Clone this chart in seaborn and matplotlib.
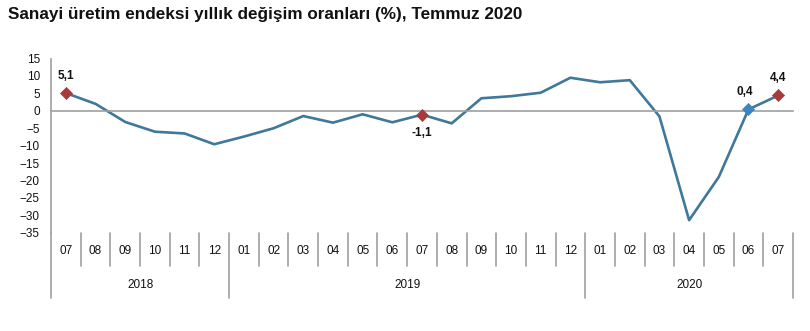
import matplotlib
matplotlib.use("Agg")
import matplotlib.pyplot as plt
import matplotlib.transforms as mtransforms
import seaborn as sns
import pandas as pd

months = ["07", "08", "09", "10", "11", "12",
          "01", "02", "03", "04", "05", "06", "07", "08", "09", "10", "11", "12",
          "01", "02", "03", "04", "05", "06", "07"]
years = ["2018", "2019", "2020"]
year_counts = [6, 12, 7]
values = [5.1, 2.0, -3.2, -6.0, -6.5, -9.6,
          -7.4, -5.0, -1.5, -3.4, -1.0, -3.3, -1.1, -3.6, 3.6, 4.2, 5.2, 9.5,
          8.2, 8.8, -1.6, -31.4, -19.0, 0.4, 4.4]
highlight_red = [0, 12, 24]
highlight_blue = [23]
label_text = {0: "5,1", 12: "-1,1", 23: "0,4", 24: "4,4"}

df = pd.DataFrame({"idx": range(len(values)), "value": values})

sns.set_style("white")
plt.rcParams["font.family"] = ["Liberation Sans", "DejaVu Sans"]

fig = plt.figure(figsize=(8.1, 3.31), dpi=100)
ax = fig.add_axes([0.063, 0.297, 0.916, 0.526])

line_color = "#3F7899"
sns.lineplot(data=df, x="idx", y="value", ax=ax, color=line_color, linewidth=1.9)

red = df.iloc[highlight_red]
blue = df.iloc[highlight_blue]
sns.scatterplot(data=red, x="idx", y="value", ax=ax, marker="D", s=38, color="#A83A3C",
                edgecolor="#A83A3C", zorder=5)
sns.scatterplot(data=blue, x="idx", y="value", ax=ax, marker="D", s=38, color="#3A86C0",
                edgecolor="#3A86C0", zorder=5)

offsets = {0: (0, 8, "center", "bottom"), 12: (0, -9, "center", "top"),
           23: (-3, 8, "center", "bottom"), 24: (0, 8, "center", "bottom")}
for i, t in label_text.items():
    dx, dy, ha, va = offsets[i]
    ax.annotate(t, (i, values[i]), xytext=(dx, dy), textcoords="offset points",
                ha=ha, va=va, fontsize=8.5, fontweight="bold", color="#111111")

n = len(values)
ax.set_xlim(-0.5, n - 0.5)
ax.set_ylim(-35, 15)
ax.set_yticks(range(-35, 16, 5))
ax.set_xlabel("")
ax.set_ylabel("")

grey = "#A0A0A0"
for s in ["top", "right"]:
    ax.spines[s].set_visible(False)
ax.spines["left"].set_color(grey)
ax.spines["left"].set_linewidth(1.2)
ax.spines["bottom"].set_position(("data", 0))
ax.spines["bottom"].set_color(grey)
ax.spines["bottom"].set_linewidth(1.2)
ax.set_xticks([i - 0.5 for i in range(n + 1)])
ax.set_xticklabels([])
ax.tick_params(axis="x", direction="inout", length=5, color=grey, width=1)
ax.tick_params(axis="y", direction="out", length=4, color=grey, width=1,
               labelsize=8.5, labelcolor="#111111", pad=4)

trans = mtransforms.blended_transform_factory(ax.transData, ax.transAxes)
for i, m in enumerate(months):
    ax.text(i, -0.105, m, transform=trans, ha="center", va="center", fontsize=8.5, color="#111111")
boundaries = [0]
for c in year_counts:
    boundaries.append(boundaries[-1] + c)
for b in range(n + 1):
    x = b - 0.5
    if b in boundaries:
        ax.plot([x, x], [0, -0.375], transform=trans, color=grey, lw=1.2, clip_on=False)
    else:
        ax.plot([x, x], [0, -0.19], transform=trans, color=grey, lw=1.2, clip_on=False)
for y, a, b in zip(years, boundaries[:-1], boundaries[1:]):
    ax.text((a + b - 1) / 2, -0.3, y, transform=trans, ha="center", va="center",
            fontsize=8.5, color="#111111")

fig.text(0.01, 0.955, "Sanayi üretim endeksi yıllık değişim oranları (%), Temmuz 2020",
         ha="left", va="center", fontsize=12.3, fontweight="bold", color="#111111")

fig.savefig("out.png", dpi=100, facecolor="white")
